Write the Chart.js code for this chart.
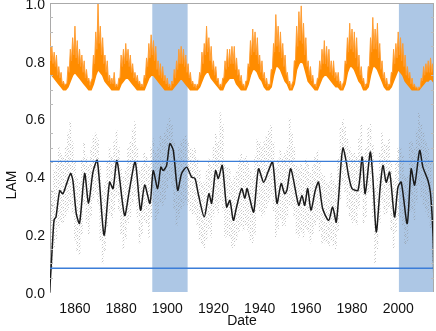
<!DOCTYPE html>
<html><head><meta charset="utf-8">
<script src="https://cdn.jsdelivr.net/npm/chart.js@4"></script>
<style>html,body{margin:0;padding:0;background:#fff}#wrap{width:436px;height:331px}</style>
</head><body><div id="wrap"><canvas id="c" width="436" height="331"></canvas></div>
<script>
const xRange = [1849.2, 2015.5];
const yearTicks = [1860, 1880, 1900, 1920, 1940, 1960, 1980, 2000];
const yTicks = [0, 0.2, 0.4, 0.6, 0.8, 1.0];
const minorYTicks = [0.05,0.1,0.15,0.25,0.3,0.35,0.45,0.5,0.55,0.65,0.7,0.75,0.85,0.9,0.95];

// orange series: yearly upper values (at whole years), values between years (at year + 0.5), yearly lower values
const orangeStart = 1849;
const orangeHi = [
0.91,0.85,0.83,0.82,0.78,0.76,0.73,0.72,0.78,0.84,
0.88,0.92,0.87,0.84,0.82,0.80,0.77,0.74,0.73,0.82,
0.90,1.00,0.92,0.88,0.82,0.80,0.75,0.74,0.76,0.72,
0.74,0.82,0.84,0.86,0.84,0.82,0.79,0.76,0.75,0.73,
0.72,0.75,0.81,0.86,0.89,0.87,0.85,0.80,0.79,0.78,
0.75,0.74,0.72,0.73,0.77,0.80,0.84,0.85,0.84,0.82,
0.79,0.76,0.73,0.72,0.72,0.76,0.83,0.86,0.92,0.88,
0.85,0.80,0.78,0.74,0.72,0.74,0.80,0.84,0.84,0.85,
0.85,0.81,0.77,0.75,0.72,0.73,0.79,0.87,0.91,0.90,
0.88,0.82,0.80,0.76,0.74,0.72,0.77,0.86,0.96,0.92,
0.90,0.86,0.82,0.76,0.73,0.72,0.80,0.92,0.97,0.99,
0.93,0.88,0.80,0.78,0.75,0.72,0.74,0.80,0.84,0.87,
0.85,0.84,0.80,0.80,0.76,0.76,0.73,0.72,0.80,0.88,
0.93,0.91,0.90,0.88,0.82,0.78,0.74,0.72,0.78,0.88,
0.95,0.91,0.93,0.86,0.80,0.76,0.74,0.72,0.76,0.84,
0.86,0.90,0.88,0.86,0.82,0.78,0.76,0.74,0.72,0.71,
0.71,0.74,0.78,0.79,0.80,0.81,0.79,0.76];
const orangeHalf = [
0.80,0.79,0.78,0.75,0.74,0.72,0.715,0.72,0.76,0.80,
0.82,0.81,0.79,0.78,0.76,0.74,0.73,0.715,0.74,0.79,
0.84,0.86,0.82,0.79,0.76,0.73,0.72,0.72,0.71,0.71,
0.74,0.78,0.79,0.80,0.78,0.76,0.74,0.73,0.72,0.71,
0.71,0.74,0.78,0.81,0.82,0.80,0.77,0.75,0.74,0.73,
0.72,0.71,0.705,0.72,0.74,0.77,0.79,0.79,0.78,0.76,
0.74,0.72,0.71,0.705,0.715,0.75,0.79,0.82,0.83,0.80,
0.77,0.75,0.73,0.71,0.71,0.74,0.77,0.78,0.79,0.79,
0.77,0.75,0.73,0.715,0.705,0.73,0.78,0.82,0.83,0.82,
0.79,0.76,0.74,0.72,0.71,0.715,0.77,0.83,0.85,0.83,
0.81,0.78,0.75,0.72,0.705,0.73,0.80,0.85,0.87,0.86,
0.82,0.78,0.75,0.73,0.715,0.71,0.74,0.77,0.79,0.79,
0.78,0.76,0.75,0.74,0.73,0.72,0.705,0.73,0.79,0.83,
0.84,0.83,0.81,0.78,0.75,0.73,0.71,0.72,0.78,0.83,
0.84,0.84,0.81,0.77,0.74,0.72,0.71,0.715,0.76,0.79,
0.81,0.82,0.80,0.78,0.75,0.74,0.72,0.71,0.705,0.70,
0.705,0.73,0.75,0.76,0.76,0.76,0.74];
const orangeLo = [
0.76,0.75,0.74,0.73,0.72,0.71,0.70,0.70,0.71,0.73,
0.75,0.76,0.75,0.74,0.73,0.72,0.71,0.70,0.70,0.72,
0.75,0.77,0.76,0.75,0.73,0.72,0.71,0.70,0.70,0.70,
0.70,0.72,0.73,0.74,0.74,0.73,0.72,0.71,0.70,0.70,
0.70,0.70,0.72,0.74,0.75,0.75,0.74,0.73,0.72,0.71,
0.70,0.70,0.70,0.70,0.71,0.72,0.73,0.74,0.73,0.72,
0.71,0.70,0.70,0.70,0.70,0.71,0.73,0.75,0.76,0.76,
0.74,0.73,0.72,0.71,0.70,0.70,0.72,0.73,0.74,0.74,
0.74,0.72,0.71,0.70,0.70,0.70,0.72,0.75,0.77,0.77,
0.76,0.74,0.73,0.71,0.70,0.70,0.71,0.75,0.78,0.78,
0.77,0.75,0.73,0.72,0.70,0.70,0.72,0.77,0.79,0.80,
0.79,0.76,0.73,0.72,0.71,0.70,0.70,0.72,0.74,0.75,
0.75,0.74,0.73,0.72,0.71,0.71,0.70,0.70,0.72,0.76,
0.78,0.78,0.77,0.75,0.73,0.72,0.70,0.70,0.71,0.75,
0.78,0.78,0.77,0.75,0.73,0.71,0.70,0.70,0.71,0.73,
0.75,0.77,0.76,0.75,0.73,0.72,0.71,0.70,0.70,0.70,
0.70,0.71,0.72,0.73,0.73,0.74,0.73,0.72];

const grayStart = 1849;
const grayHi = [
0.20,0.35,0.42,0.45,0.50,0.48,0.47,0.50,0.55,0.59,
0.52,0.45,0.40,0.38,0.46,0.52,0.47,0.44,0.50,0.54,
0.55,0.53,0.44,0.35,0.38,0.45,0.50,0.47,0.52,0.56,
0.50,0.43,0.40,0.43,0.50,0.52,0.56,0.59,0.50,0.42,
0.44,0.48,0.47,0.44,0.50,0.53,0.48,0.50,0.54,0.53,
0.55,0.58,0.60,0.58,0.52,0.46,0.50,0.52,0.53,0.54,
0.52,0.50,0.49,0.50,0.46,0.42,0.38,0.38,0.42,0.46,
0.44,0.50,0.55,0.52,0.62,0.58,0.44,0.43,0.43,0.38,
0.40,0.42,0.46,0.48,0.46,0.47,0.45,0.42,0.40,0.47,
0.53,0.52,0.50,0.52,0.54,0.56,0.58,0.52,0.43,0.46,
0.49,0.47,0.48,0.50,0.60,0.55,0.50,0.44,0.43,0.45,
0.43,0.46,0.45,0.41,0.44,0.47,0.49,0.45,0.41,0.40,
0.38,0.38,0.41,0.39,0.37,0.46,0.57,0.60,0.57,0.53,
0.50,0.48,0.48,0.47,0.53,0.58,0.48,0.50,0.57,0.58,
0.51,0.36,0.40,0.48,0.55,0.51,0.51,0.53,0.45,0.39,
0.45,0.50,0.50,0.47,0.40,0.40,0.52,0.52,0.50,0.56,
0.62,0.58,0.55,0.52,0.50,0.46,0.35];
const grayLo = [
0.00,0.08,0.15,0.18,0.22,0.24,0.24,0.26,0.28,0.30,
0.27,0.18,0.14,0.13,0.20,0.30,0.24,0.20,0.26,0.32,
0.34,0.30,0.18,0.10,0.14,0.22,0.27,0.25,0.28,0.33,
0.28,0.20,0.15,0.18,0.24,0.26,0.30,0.33,0.26,0.17,
0.20,0.25,0.24,0.19,0.26,0.30,0.25,0.27,0.31,0.30,
0.32,0.36,0.39,0.37,0.29,0.23,0.26,0.29,0.30,0.31,
0.30,0.28,0.27,0.27,0.23,0.18,0.16,0.15,0.18,0.22,
0.19,0.26,0.29,0.27,0.31,0.28,0.19,0.19,0.19,0.15,
0.16,0.18,0.21,0.23,0.21,0.23,0.21,0.18,0.17,0.20,
0.30,0.28,0.26,0.27,0.29,0.31,0.33,0.28,0.19,0.22,
0.25,0.23,0.23,0.26,0.30,0.30,0.26,0.20,0.19,0.21,
0.19,0.22,0.21,0.17,0.20,0.23,0.25,0.21,0.17,0.17,
0.17,0.16,0.18,0.16,0.15,0.21,0.32,0.37,0.34,0.29,
0.26,0.24,0.24,0.23,0.29,0.34,0.24,0.26,0.34,0.35,
0.26,0.10,0.15,0.24,0.31,0.27,0.27,0.29,0.21,0.15,
0.21,0.25,0.26,0.23,0.16,0.17,0.28,0.28,0.25,0.31,
0.37,0.33,0.30,0.28,0.26,0.22,0.08];

const lamYears = [1849.0,1849.7,1850.5,1851.0,1851.8,1853.4,1854.8,1856.2,1858.1,1859.1,
1860.6,1862.0,1864.2,1865.9,1867.8,1869.7,1872.6,1875.0,1876.5,1878.2,
1881.5,1883.7,1886.1,1888.4,1890.2,1892.5,1893.9,1895.8,1897.2,1898.2,
1899.7,1901.1,1902.6,1904.5,1906.2,1908.4,1910.5,1912.0,1913.4,1916.0,
1918.0,1919.2,1920.9,1922.1,1923.8,1925.7,1927.1,1928.6,1930.0,1932.2,
1933.6,1934.5,1935.5,1937.4,1939.5,1941.7,1943.6,1945.6,1947.5,1949.3,
1950.8,1951.8,1953.5,1956.9,1958.3,1959.5,1960.8,1962.2,1964.1,1965.5,
1967.3,1969.9,1971.6,1973.2,1975.3,1976.1,1977.5,1978.5,1980.0,1982.6,
1984.4,1985.7,1987.9,1989.0,1990.5,1992.2,1993.4,1994.8,1996.3,1998.4,
1999.9,2001.3,2003.9,2005.6,2007.1,2009.3,2010.7,2012.9,2014.0,2015.1,2015.5];
const lamValues = [0.0,0.087,0.2,0.25,0.26,0.35,0.34,0.37,0.41,0.386,
0.27,0.238,0.41,0.307,0.415,0.455,0.197,0.38,0.358,0.455,
0.265,0.358,0.45,0.283,0.37,0.307,0.42,0.358,0.432,0.42,
0.438,0.513,0.49,0.352,0.41,0.432,0.398,0.393,0.34,0.26,
0.34,0.307,0.42,0.393,0.438,0.294,0.317,0.248,0.294,0.358,
0.324,0.358,0.33,0.277,0.426,0.38,0.415,0.45,0.307,0.375,
0.34,0.352,0.426,0.3,0.334,0.3,0.358,0.283,0.352,0.38,
0.288,0.248,0.294,0.242,0.45,0.5,0.45,0.403,0.358,0.352,
0.467,0.34,0.484,0.398,0.208,0.363,0.438,0.38,0.415,0.26,
0.363,0.38,0.237,0.426,0.37,0.49,0.432,0.386,0.34,0.19,0.0];

const thresholds = [0.452, 0.082];
const shadeSpans = [[1893.5, 1908.8], [2000.3, 2016.0]];

const FONT = '"Liberation Sans", Arial, Helvetica, sans-serif';

// scattered-dot pattern for the gray point streaks
const pc = document.createElement('canvas'); pc.width = 7; pc.height = 7;
const pctx = pc.getContext('2d'); pctx.fillStyle = 'rgba(140,140,140,0.5)';
[[0,0],[0,4],[1,2],[1,6],[2,1],[2,5],[3,3],[3,0],[4,6],[4,2],[5,4],[5,1],[6,5],[6,3]].forEach(([a,b]) => pctx.fillRect(a,b,1,1));
const ctx0 = document.getElementById('c').getContext('2d');
const grayPattern = ctx0.createPattern(pc, 'repeat');

const orangeUpper = [];
orangeHi.forEach((v, i) => {
  orangeUpper.push({x: orangeStart + i, y: v});
  if (i < orangeHalf.length) orangeUpper.push({x: orangeStart + i + 0.5, y: orangeHalf[i]});
});

const deco = {
  id: 'deco',
  beforeDatasetsDraw(chart) {
    const {ctx, chartArea: a, scales: {x}} = chart;
    ctx.save();
    ctx.fillStyle = '#adc7e5';
    shadeSpans.forEach(([s, e]) => {
      const x0 = Math.max(a.left, x.getPixelForValue(s));
      const x1 = Math.min(a.right, x.getPixelForValue(e));
      ctx.fillRect(x0, a.top, x1 - x0, a.bottom - a.top);
    });
    ctx.restore();
  },
  afterDatasetsDraw(chart) {
    const {ctx, chartArea: a, scales: {x, y}} = chart;
    ctx.save();
    ctx.strokeStyle = '#3b7dd8'; ctx.lineWidth = 1.4;
    thresholds.forEach(v => {
      const py = y.getPixelForValue(v);
      ctx.beginPath(); ctx.moveTo(a.left, py); ctx.lineTo(a.right, py); ctx.stroke();
    });
    ctx.strokeStyle = '#aaaaaa'; ctx.lineWidth = 1;
    ctx.beginPath(); ctx.moveTo(a.left, a.top + 0.5); ctx.lineTo(a.right, a.top + 0.5); ctx.stroke();
    ctx.beginPath(); ctx.moveTo(a.right - 0.5, a.top); ctx.lineTo(a.right - 0.5, a.bottom); ctx.stroke();
    ctx.strokeStyle = '#bbbbbb';
    minorYTicks.forEach(v => {
      const py = Math.round(y.getPixelForValue(v)) + 0.5;
      ctx.beginPath(); ctx.moveTo(a.left, py); ctx.lineTo(a.left + 3, py); ctx.stroke();
      ctx.beginPath(); ctx.moveTo(a.right - 3, py); ctx.lineTo(a.right, py); ctx.stroke();
    });
    ctx.restore();
    ctx.save();
    ctx.fillStyle = '#111'; ctx.font = '14px ' + FONT;
    ctx.textAlign = 'center'; ctx.textBaseline = 'middle';
    ctx.translate(12, 185); ctx.rotate(-Math.PI / 2);
    ctx.fillText('LAM', 0, 0);
    ctx.restore();
  }
};

new Chart(ctx0, {
  type: 'line',
  data: {
    datasets: [
      {
        type: 'line', label: 'LAM smooth',
        data: lamYears.map((yr, i) => ({x: yr, y: lamValues[i]})),
        borderColor: '#1a1a1a', borderWidth: 1.5, pointRadius: 0, tension: 0.25, fill: false, order: 1
      },
      {
        type: 'bar', label: 'LAM points',
        data: grayHi.map((v, i) => ({x: grayStart + i, y: [grayLo[i], v]})),
        backgroundColor: grayPattern, borderWidth: 0, barThickness: 1, grouped: false, order: 5
      },
      {
        type: 'line', label: 'SSN high',
        data: orangeUpper,
        borderColor: '#ff9d33', borderWidth: 1, pointRadius: 0, tension: 0,
        fill: '+1', backgroundColor: '#ff8c00', order: 3
      },
      {
        type: 'line', label: 'SSN low',
        data: orangeLo.map((v, i) => ({x: orangeStart + i, y: v})),
        borderColor: '#ff8c00', borderWidth: 1.5, pointRadius: 0, tension: 0, fill: false, order: 4
      }
    ]
  },
  options: {
    responsive: false, animation: false, devicePixelRatio: 1,
    layout: {padding: {top: 3, right: 2, left: 0, bottom: 0}},
    plugins: {legend: {display: false}, tooltip: {enabled: false}},
    scales: {
      x: {
        type: 'linear', min: xRange[0], max: xRange[1], offset: false,
        grid: {display: false, drawTicks: false}, border: {display: false},
        afterBuildTicks: ax => { ax.ticks = yearTicks.map(v => ({value: v})); },
        afterFit: ax => { ax.height = 39; ax.paddingLeft = 0; ax.paddingRight = 0; },
        ticks: {font: {family: FONT, size: 14}, color: '#111', padding: 9, maxRotation: 0, autoSkip: false, callback: v => String(v)},
        title: {display: true, text: 'Date', font: {family: FONT, size: 14}, color: '#111', padding: {top: 0, bottom: 1}}
      },
      y: {
        type: 'linear', min: 0, max: 1,
        grid: {display: false, drawTicks: false}, border: {display: true, color: '#aaaaaa'},
        afterBuildTicks: ax => { ax.ticks = yTicks.map(v => ({value: v})); },
        afterFit: ax => { ax.width = 50; ax.paddingTop = 0; ax.paddingBottom = 0; },
        ticks: {font: {family: FONT, size: 14}, color: '#111', padding: 5, labelOffset: 2, callback: v => v.toFixed(1)}
      }
    }
  },
  plugins: [deco]
});
</script>
</body></html>
